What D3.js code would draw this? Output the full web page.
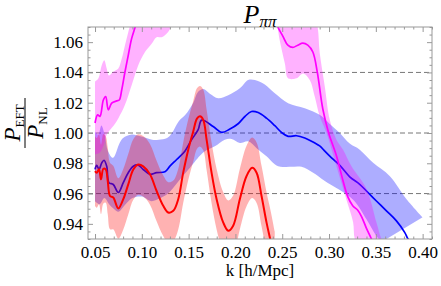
<!DOCTYPE html>
<html>
<head>
<meta charset="utf-8">
<script src="https://cdn.jsdelivr.net/npm/d3@7"></script>
<style>
  body { margin: 0; background: #fff; }
  svg { display: block; font-family: "Liberation Serif", "DejaVu Serif", serif; }
</style>
</head>
<body>
<svg id="chart" width="441" height="286"></svg>
<script>
// tick values
const kTicks = [0.05, 0.10, 0.15, 0.20, 0.25, 0.30, 0.35, 0.40];
const yTicks = [0.94, 0.96, 0.98, 1.00, 1.02, 1.04, 1.06];
const dashLevels = [0.96, 1.00, 1.04];

// blue series: line, upper and lower edge of band
const blueK = [0.050,0.0518,0.0543,0.0572,0.0596,0.0625,0.0649,0.0695,0.0749,0.0802,0.0855,0.0909,0.0962,0.1015,0.1087,0.1158,0.1247,0.130,0.1372,0.146,0.1532,0.1602,0.1639,0.1762,0.1852,0.1941,0.2029,0.2101,0.2172,0.2243,0.2332,0.2421,0.2492,0.2563,0.2653,0.2741,0.2848,0.290,0.2955,0.3008,0.3115,0.3221,0.3328,0.340,0.3506,0.3613,0.372,0.3808,0.3844,0.390];
const blueV = [0.976,0.9786,0.976,0.9803,0.982,0.978,0.9672,0.966,0.9607,0.9672,0.9738,0.9781,0.9788,0.9759,0.9727,0.9738,0.9744,0.9781,0.9825,0.988,0.9956,1.0022,1.0085,1.0043,1.0004,1.0026,1.0061,1.0109,1.0142,1.0135,1.0098,1.0048,1.0004,0.9978,0.9982,0.9967,0.9934,0.9915,0.988,0.9847,0.9786,0.9711,0.9661,0.9617,0.9551,0.9486,0.942,0.9344,0.930,0.926];
const blueHiK = [0.050,0.0535,0.0568,0.0603,0.0639,0.0692,0.0763,0.080,0.0892,0.0985,0.111,0.118,0.127,0.1322,0.1393,0.1465,0.155,0.160,0.1656,0.1727,0.1816,0.1923,0.2047,0.2136,0.2208,0.2314,0.2421,0.2563,0.2741,0.290,0.3008,0.3115,0.3221,0.3328,0.3471,0.365,0.3828,0.400];
const blueHi = [1.001,0.999,1.005,0.999,0.988,0.9836,0.9934,0.9967,0.999,0.9978,0.9956,0.9956,0.9967,1.000,1.0076,1.012,1.020,1.027,1.029,1.026,1.023,1.025,1.0295,1.035,1.035,1.032,1.0262,1.0197,1.0164,1.012,1.006,1.000,0.993,0.989,0.9803,0.9715,0.9563,0.9443];
const blueLoK = [0.050,0.055,0.060,0.065,0.070,0.075,0.080,0.090,0.100,0.110,0.120,0.128,0.139,0.150,0.162,0.1674,0.178,0.1887,0.1959,0.2047,0.2136,0.2226,0.2332,0.2456,0.2581,0.2706,0.283,0.2955,0.3257,0.340,0.3506,0.356];
const blueLo = [0.955,0.953,0.957,0.953,0.950,0.948,0.951,0.957,0.958,0.955,0.957,0.960,0.968,0.976,0.985,0.988,0.9912,0.9956,0.996,0.9934,0.9945,0.990,0.9847,0.978,0.9777,0.9777,0.9738,0.9683,0.956,0.943,0.932,0.928];

// red series: line and band half width
const redK = [0.050,0.0518,0.0543,0.0564,0.0589,0.0614,0.0636,0.066,0.0695,0.0749,0.0802,0.0855,0.0909,0.0962,0.1015,0.1087,0.1158,0.1229,0.1282,0.1336,0.1389,0.1442,0.1496,0.1549,0.1589,0.1621,0.1656,0.1692,0.1745,0.1799,0.1869,0.1923,0.1976,0.2047,0.2119,0.2179,0.2226,0.2279,0.2332,0.2378,0.242];
const redV = [0.9748,0.9737,0.976,0.9694,0.9764,0.976,0.9683,0.9584,0.9574,0.9502,0.9563,0.9661,0.9759,0.9792,0.978,0.9727,0.9617,0.9519,0.9475,0.9486,0.9563,0.9738,0.989,1.001,1.0095,1.011,1.0087,0.9956,0.9738,0.9563,0.941,0.9355,0.9388,0.9563,0.9716,0.977,0.9738,0.9584,0.941,0.928,0.915];
const redErr = [0.023,0.023,0.023,0.023,0.023,0.022,0.022,0.022,0.021,0.020,0.020,0.020,0.020,0.020,0.020,0.020,0.020,0.020,0.020,0.020,0.020,0.020,0.020,0.020,0.020,0.020,0.020,0.020,0.020,0.020,0.020,0.020,0.020,0.020,0.020,0.020,0.020,0.020,0.020,0.020,0.020];

// magenta series (goes off the top between ~0.09 and ~0.245)
const magK = [0.050,0.0528,0.0553,0.0589,0.0614,0.0642,0.0678,0.0731,0.0759,0.0785,0.082,0.0855,0.0891,0.0934,0.100,0.120,0.150,0.180,0.210,0.230,0.2453,0.2506,0.256,0.2613,0.2666,0.272,0.2773,0.2827,0.2875,0.2933,0.2996,0.3079,0.3147,0.320,0.3253,0.3307,0.3346,0.340,0.3453,0.350];
const magV = [1.0066,1.012,1.011,1.0218,1.024,1.0153,1.0197,1.0212,1.0218,1.0284,1.0404,1.0513,1.0623,1.071,1.085,1.100,1.110,1.115,1.110,1.095,1.070,1.064,1.058,1.0565,1.058,1.0593,1.058,1.0535,1.040,1.016,1.000,0.985,0.969,0.958,0.952,0.949,0.945,0.937,0.930,0.922];
const magHiK = [0.050,0.0535,0.0572,0.0599,0.0625,0.0649,0.0695,0.0749,0.0785,0.082,0.0855,0.0874,0.095,0.120,0.180,0.240,0.270,0.2866,0.2901,0.2955,0.3008,0.3079,0.315,0.324,0.340,0.3506,0.356,0.365];
const magHi = [1.034,1.036,1.0448,1.048,1.0426,1.038,1.0404,1.0426,1.049,1.058,1.0666,1.071,1.090,1.120,1.130,1.120,1.100,1.074,1.0527,1.0306,1.0087,0.9956,0.989,0.978,0.963,0.941,0.930,0.920];
const magLoK = [0.050,0.055,0.060,0.0625,0.066,0.070,0.075,0.082,0.0892,0.0962,0.1034,0.1105,0.1158,0.1212,0.1279,0.1322,0.150,0.200,0.230,0.2432,0.2474,0.2528,0.2563,0.2653,0.2723,0.2794,0.2848,0.2901,0.2973,0.3079,0.3186,0.3257,0.3275,0.335];
const magLo = [0.986,0.987,0.993,0.999,1.002,1.005,1.0098,1.0186,1.0317,1.0448,1.0535,1.059,1.0633,1.0633,1.0666,1.071,1.085,1.100,1.090,1.074,1.061,1.0459,1.0361,1.0361,1.0393,1.035,1.024,1.0109,1.000,0.978,0.956,0.941,0.930,0.920];

const W = 441, H = 286;
const m = {left: 88, top: 27, right: 9, bottom: 47};
const svg = d3.select("#chart");

const x = d3.scaleLinear().domain([0.0425, 0.41]).range([m.left, W - m.right]);
const y = d3.scaleLinear().domain([0.93, 1.07]).range([H - m.bottom, m.top]);

svg.append("defs").append("clipPath").attr("id", "plotclip")
  .append("rect")
  .attr("x", m.left).attr("y", m.top)
  .attr("width", W - m.left - m.right).attr("height", H - m.top - m.bottom);

// dashed reference lines
svg.append("g").selectAll("line")
  .data(dashLevels)
  .join("line")
  .attr("x1", m.left).attr("x2", W - m.right)
  .attr("y1", d => y(d)).attr("y2", d => y(d))
  .attr("stroke", "#777").attr("stroke-width", 1)
  .attr("stroke-dasharray", "5,3");

const line = d3.line().curve(d3.curveCatmullRom.alpha(0.5));
function pts(ks, vs) { return ks.map((k, i) => [x(k), y(vs[i])]); }
function bandPath(hiK, hi, loK, lo) {
  const up = line(pts(hiK, hi));
  const down = line(pts(loK, lo).reverse());
  return up + "L" + down.slice(1) + "Z";
}

const plot = svg.append("g").attr("clip-path", "url(#plotclip)");

const series = [
  {color: "#0000ff", band: bandPath(blueHiK, blueHi, blueLoK, blueLo), k: blueK, v: blueV, w: 1.7, op: 0.32},
  {color: "#ff0000", band: bandPath(redK, redV.map((v, i) => v + redErr[i]), redK, redV.map((v, i) => v - redErr[i])), k: redK, v: redV, w: 2, op: 0.3},
  {color: "#ff00ff", band: bandPath(magHiK, magHi, magLoK, magLo), k: magK, v: magV, w: 1.7, op: 0.3}
];

series.forEach(s => {
  plot.append("path")
    .attr("d", s.band)
    .attr("fill", s.color)
    .attr("fill-opacity", s.op)
    .attr("stroke", "none");
  plot.append("path")
    .attr("d", line(pts(s.k, s.v)))
    .attr("fill", "none")
    .attr("stroke", s.color)
    .attr("stroke-width", s.w);
});

// frame + ticks (ticks drawn inside on all four sides)
const kMinor = d3.range(0.05, 0.4101, 0.01).filter(v => Math.abs(v * 20 - Math.round(v * 20)) > 1e-6);
const yMinor = d3.range(0.93, 1.0701, 0.005).filter(v => Math.abs(v * 50 - Math.round(v * 50)) > 1e-6);

function styleAxis(g) {
  g.select(".domain").remove();
  g.selectAll(".tick line").attr("stroke", "#999");
  g.selectAll(".tick text")
    .attr("fill", "#000")
    .attr("font-size", 17)
    .attr("font-family", "Liberation Serif, serif");
}

svg.append("g").attr("transform", `translate(0,${H - m.bottom})`)
  .call(d3.axisBottom(x).tickValues(kTicks).tickSize(-5).tickSizeOuter(0).tickPadding(7).tickFormat(d3.format(".2f")))
  .call(styleAxis);
svg.append("g").attr("transform", `translate(0,${H - m.bottom})`)
  .call(d3.axisBottom(x).tickValues(kMinor).tickSize(-2.5).tickSizeOuter(0).tickFormat(""))
  .call(styleAxis);
svg.append("g").attr("transform", `translate(0,${m.top})`)
  .call(d3.axisTop(x).tickValues(kTicks).tickSize(-5).tickSizeOuter(0).tickFormat(""))
  .call(styleAxis);
svg.append("g").attr("transform", `translate(0,${m.top})`)
  .call(d3.axisTop(x).tickValues(kMinor).tickSize(-2.5).tickSizeOuter(0).tickFormat(""))
  .call(styleAxis);

svg.append("g").attr("transform", `translate(${m.left},0)`)
  .call(d3.axisLeft(y).tickValues(yTicks).tickSize(-5).tickSizeOuter(0).tickPadding(5).tickFormat(d3.format(".2f")))
  .call(styleAxis);
svg.append("g").attr("transform", `translate(${m.left},0)`)
  .call(d3.axisLeft(y).tickValues(yMinor).tickSize(-2.5).tickSizeOuter(0).tickFormat(""))
  .call(styleAxis);
svg.append("g").attr("transform", `translate(${W - m.right},0)`)
  .call(d3.axisRight(y).tickValues(yTicks).tickSize(-5).tickSizeOuter(0).tickFormat(""))
  .call(styleAxis);
svg.append("g").attr("transform", `translate(${W - m.right},0)`)
  .call(d3.axisRight(y).tickValues(yMinor).tickSize(-2.5).tickSizeOuter(0).tickFormat(""))
  .call(styleAxis);

svg.append("rect")
  .attr("x", m.left).attr("y", m.top)
  .attr("width", W - m.left - m.right).attr("height", H - m.top - m.bottom)
  .attr("fill", "none").attr("stroke", "#999").attr("stroke-width", 1);

// title
const title = svg.append("text")
  .attr("x", (m.left + W - m.right) / 2).attr("y", 23)
  .attr("text-anchor", "middle")
  .attr("font-style", "italic");
title.append("tspan").attr("font-size", 26).text("P");
title.append("tspan").attr("font-size", 17).attr("dy", 4).text("ππ");

// x label
svg.append("text")
  .attr("x", (m.left + W - m.right) / 2).attr("y", 276)
  .attr("text-anchor", "middle")
  .attr("font-size", 17)
  .text("k [h/Mpc]");

// y label: P_EFT / P_NL fraction, rotated
const yl = svg.append("g").attr("transform", "translate(25,123) rotate(-90)");
const num = yl.append("text").attr("x", 0).attr("y", -5).attr("text-anchor", "middle");
num.append("tspan").attr("font-size", 23).attr("font-style", "italic").text("P");
num.append("tspan").attr("font-size", 13).attr("dy", 4).text("EFT");
const den = yl.append("text").attr("x", 0).attr("y", 18).attr("text-anchor", "middle");
den.append("tspan").attr("font-size", 23).attr("font-style", "italic").text("P");
den.append("tspan").attr("font-size", 13).attr("dy", 4).text("NL");
yl.append("line").attr("x1", -25).attr("x2", 25).attr("y1", 0).attr("y2", 0)
  .attr("stroke", "#000").attr("stroke-width", 1);
</script>
</body>
</html>
